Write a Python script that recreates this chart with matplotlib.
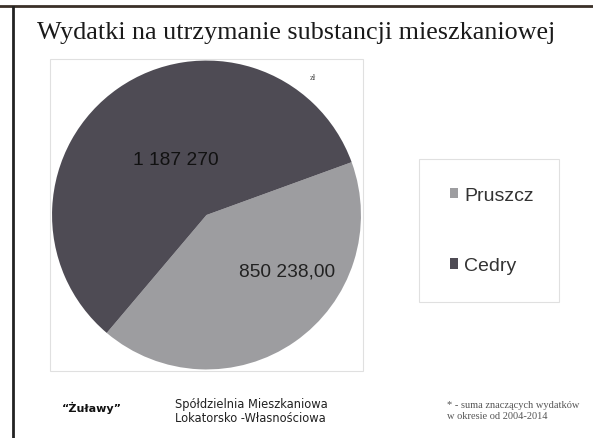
import matplotlib
matplotlib.use("Agg")
import matplotlib.pyplot as plt
from matplotlib.patches import Rectangle
from matplotlib.lines import Line2D

title = "Wydatki na utrzymanie substancji mieszkaniowej"
categories = ["Pruszcz", "Cedry"]
values = [850238.00, 1187270]
value_labels = ["850 238,00", "1 187 270"]
colors = ["#9d9d a0".replace(" ", ""), "#4e4b54"]

W, H = 593, 439
fig = plt.figure(figsize=(W / 100, H / 100), dpi=100)
fig.patch.set_facecolor("white")

def fx(px):
    return px / W

def fy(py):
    return 1 - py / H

# slide frame
fig.add_artist(Line2D([fx(0), fx(593)], [fy(7), fy(7)], color="#3a3028", lw=2))
fig.add_artist(Line2D([fx(13), fx(13)], [fy(8), fy(439)], color="#222222", lw=2))

# plot area box
fig.add_artist(Rectangle((fx(50), fy(372)), fx(313), 312 / H, fill=False,
                         edgecolor="#e0e0e0", lw=0.8))
# legend box
fig.add_artist(Rectangle((fx(419), fy(303)), fx(140), 143 / H, fill=False,
                         edgecolor="#e0e0e0", lw=0.8))

ax = fig.add_axes([fx(50), fy(372), fx(313), 312 / H])
wedges, _ = ax.pie(values, colors=colors, startangle=20, counterclock=False,
                   radius=1.0, wedgeprops=dict(linewidth=0))
ax.set_xlim(-1.01, 1.01)
ax.set_ylim(-1.01, 1.01)
ax.axis("off")

ax.text(0.52, -0.36, value_labels[0], ha="center", va="center",
        fontsize=13.8, color="#222222", family="Liberation Sans")
ax.text(-0.20, 0.36, value_labels[1], ha="center", va="center",
        fontsize=13.8, color="#111111", family="Liberation Sans")

fig.text(fx(313), fy(78), "zł", ha="center", va="center", fontsize=6,
         family="Liberation Serif", color="#444444")

fig.text(fx(296), fy(33), title, ha="center", va="center", fontsize=18.8,
         family="Liberation Serif", color="#1a1a1a")

leg = fig.legend(wedges, categories, loc="center left", bbox_to_anchor=(fx(450), fy(231.5)),
                 frameon=False, prop=dict(family="Liberation Sans", size=14),
                 labelspacing=2.77, handlelength=0.42, handleheight=0.42,
                 handletextpad=0.3, borderpad=0, borderaxespad=0,
                 labelcolor="#333333")

fig.text(fx(92), fy(408), "\u201c\u017bu\u0142awy\u201d", ha="center", va="center",
         fontsize=8, fontweight="bold", family="DejaVu Sans", color="#111111")
fig.text(fx(175), fy(412), "Spółdzielnia Mieszkaniowa\nLokatorsko -Własnościowa",
         ha="left", va="center", fontsize=8.3, family="DejaVu Sans",
         color="#222222", linespacing=1.1)
fig.text(fx(447), fy(411), "* - suma znaczących wydatków\nw okresie od 2004-2014",
         ha="left", va="center", fontsize=7.5, family="Liberation Serif",
         color="#555555", linespacing=1.2)

fig.savefig("out.png", dpi=100, facecolor="white")
